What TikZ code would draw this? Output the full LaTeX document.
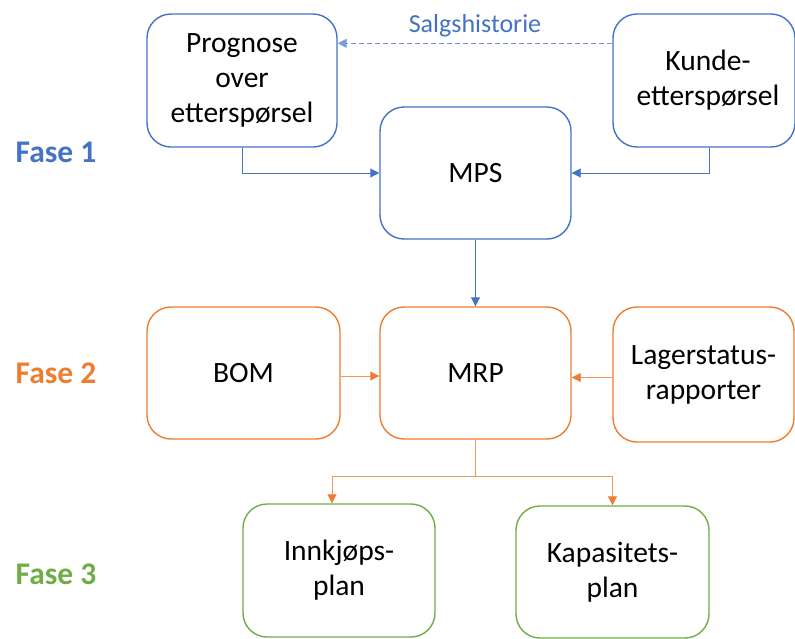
\documentclass[tikz,border=0pt]{standalone}
\usepackage{fontspec}
\setmainfont{Carlito}
\usetikzlibrary{arrows.meta}
\definecolor{phaseblue}{HTML}{4472C4}
\definecolor{phaseorange}{HTML}{ED7D31}
\definecolor{phasegreen}{HTML}{70AD47}
\begin{document}
\begin{tikzpicture}[x=1pt,y=-1pt,
  box/.style={draw, rounded corners=24pt, line width=1.4pt, align=center,
    inner sep=0pt, text=black, font=\fontsize{29.5}{35}\selectfont},
  bluebox/.style={box, draw=phaseblue},
  orangebox/.style={box, draw=phaseorange},
  greenbox/.style={box, draw=phasegreen},
  phase/.style={font=\fontsize{31.5}{36}\selectfont\bfseries},
  flow/.style={line width=0.9pt},
  tip/.style={-{Triangle[length=9pt,width=9pt]}},
  blueflow/.style={flow, tip, draw=phaseblue},
  orangeline/.style={flow, draw=phaseorange!80!white},
  orangeflow/.style={orangeline, -{Triangle[length=9pt,width=9pt,color=phaseorange]}},
  history/.style={flow, tip, dash pattern=on 5pt off 3pt, draw=phaseblue!70!white}
]
\useasboundingbox (0,0) rectangle (795,638);

% phase labels
\node[phase, text=phaseblue]   (f1) at (56,152) {Fase 1};
\node[phase, text=phaseorange] (f2) at (56,373) {Fase 2};
\node[phase, text=phasegreen]  (f3) at (56,574) {Fase 3};

% phase 1
\node[bluebox, minimum width=190pt, minimum height=133pt] (prog) at (242,80.5)
  {Prognose\\over\\etterspørsel};
\node[bluebox, minimum width=182pt, minimum height=133pt] (kunde) at (704,80.5)
  {\hspace*{8pt}Kunde-\\\hspace*{8pt}etterspørsel};
\node[bluebox, minimum width=191pt, minimum height=132pt] (mps) at (475.5,173) {MPS};

% phase 2
\node[orangebox, minimum width=193pt, minimum height=132pt] (bom) at (243.5,373) {BOM};
\node[orangebox, minimum width=191pt, minimum height=132pt] (mrp) at (475.5,373) {MRP};
\node[orangebox, minimum width=181pt, minimum height=135pt] (lager) at (703.5,374.5)
  {Lagerstatus-\\rapporter};

% phase 3
\node[greenbox, minimum width=192pt, minimum height=133pt] (innk) at (339,570.5)
  {Innkjøps-\\plan};
\node[greenbox, minimum width=193pt, minimum height=132pt] (kap) at (612.5,572)
  {Kapasitets-\\plan};

% connectors, phase 1
\draw[history] ([yshift=-30pt]kunde.north west) -- ([yshift=-30pt]prog.north east)
  node[midway, above=3pt, text=phaseblue, font=\fontsize{26}{30}\selectfont] (salg) {Salgshistorie};
\draw[blueflow] (prog.south) |- (mps.west);
\draw[blueflow] ([xshift=5pt]kunde.south) |- (mps.east);
\draw[blueflow] (mps.south) -- (mrp.north);

% connectors, phase 2
\draw[orangeflow] ([yshift=-3pt]bom.east) -- ([yshift=-3pt]mrp.west);
\draw[orangeflow] ([yshift=-3pt]lager.west) -- ([yshift=-3pt]lager.west -| mrp.east);
\draw[orangeline] (mrp.south) -- ++(0,37) coordinate (split);
\draw[orangeflow] (split) -| ([xshift=-7pt]innk.north);
\draw[orangeflow] (split) -| (kap.north);
\end{tikzpicture}
\end{document}
